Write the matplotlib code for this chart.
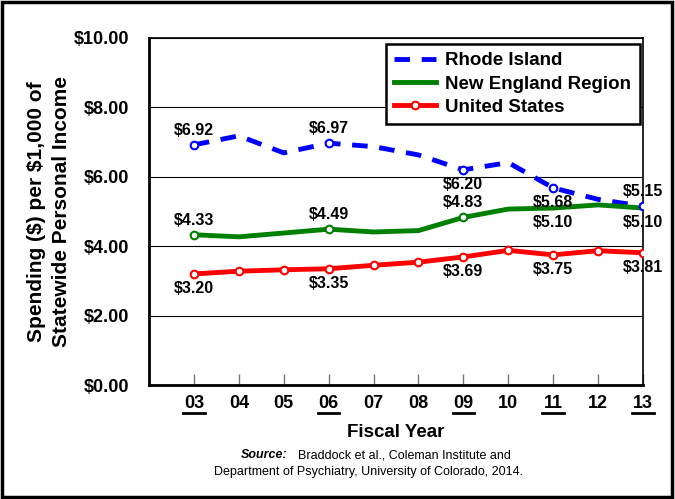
import matplotlib
matplotlib.use("Agg")
import matplotlib.pyplot as plt
from matplotlib.patches import Rectangle

plt.rcParams['font.family'] = ['Liberation Sans', 'DejaVu Sans']

# data
years = [3, 4, 5, 6, 7, 8, 9, 10, 11, 12, 13]
year_labels = ['03', '04', '05', '06', '07', '08', '09', '10', '11', '12', '13']
underlined = ['03', '06', '09', '11', '13']
rhode_island = [6.92, 7.18, 6.69, 6.97, 6.87, 6.63, 6.20, 6.41, 5.68, 5.35, 5.15]
new_england = [4.33, 4.27, 4.38, 4.49, 4.41, 4.45, 4.83, 5.07, 5.10, 5.19, 5.10]
united_states = [3.20, 3.28, 3.32, 3.35, 3.45, 3.54, 3.69, 3.88, 3.75, 3.87, 3.81]
yticks = [0, 2, 4, 6, 8, 10]

labelled = [0, 3, 6, 8, 10]
ri_side = [1, 1, -1, -1, 1]
ne_side = [1, 1, 1, -1, -1]
us_side = [-1, -1, -1, -1, -1]

fig = plt.figure(figsize=(6.75, 4.99), dpi=100)
ax = fig.add_axes([149 / 675, 1 - 385 / 499, 494 / 675, 347 / 499])

ax.plot(years, rhode_island, color='#0000FF', lw=3.5, dashes=(3.2, 2.4), label='Rhode Island', zorder=3)
ax.plot([years[i] for i in labelled], [rhode_island[i] for i in labelled], 'o', ms=5.5,
        mfc='white', mec='#0000FF', mew=1.5, zorder=4)
ax.plot(years, new_england, color='#008000', lw=3.5, label='New England Region', zorder=3)
ax.plot([years[i] for i in labelled[:3]], [new_england[i] for i in labelled[:3]], 'o', ms=5.5,
        mfc='white', mec='#008000', mew=1.5, zorder=4)
ax.plot(years, united_states, color='#FF0000', lw=3.5, marker='o', ms=5.5, mfc='white',
        mec='#FF0000', mew=1.5, label='United States', zorder=3)

for series, sides in [(rhode_island, ri_side), (new_england, ne_side), (united_states, us_side)]:
    for i, s in zip(labelled, sides):
        ax.annotate('$%.2f' % series[i], (years[i], series[i]), xytext=(0, 10.5 * s),
                    textcoords='offset points', ha='center', va='center',
                    fontsize=11.5, fontweight='bold', zorder=5)

ax.set_xlim(2, 13)
ax.set_ylim(0, 10)
ax.set_yticks(yticks)
ax.set_yticklabels(['$%.2f' % v for v in yticks], fontsize=13, fontweight='bold')
ax.set_xticks(years)
ax.set_xticklabels(year_labels, fontsize=13, fontweight='bold')
ax.tick_params(axis='x', direction='in', length=8, width=1, color='#777777', pad=7)
ax.tick_params(axis='y', length=0, pad=14)
ax.grid(axis='y', color='black', lw=0.8)
for sp in ax.spines.values():
    sp.set_linewidth(1.2)
ax.spines['left'].set_linewidth(2)
ax.spines['bottom'].set_linewidth(2)

# underline selected year labels
for x, l in zip(years, year_labels):
    if l in underlined:
        ax.plot([x - 0.24, x + 0.24], [-0.08, -0.08], color='black', lw=2,
                transform=ax.get_xaxis_transform(), clip_on=False)

ax.set_xlabel('Fiscal Year', fontsize=13.5, fontweight='bold', labelpad=9)
ax.set_ylabel('Spending (\\$) per \\$1,000 of\nStatewide Personal Income', fontsize=15,
              fontweight='bold', labelpad=2, linespacing=1.4)

leg = ax.legend(loc='upper right', bbox_to_anchor=(0.993, 0.983),
                prop={'weight': 'bold', 'size': 13.5}, fancybox=False, framealpha=1,
                edgecolor='black', borderpad=0.45, labelspacing=0.32, handlelength=2.2,
                handletextpad=0.5, borderaxespad=0.0)
leg.get_frame().set_linewidth(1.8)

fig.text(287 / 675, 1 - 455 / 499, 'Source:', fontsize=9, fontweight='bold', style='italic', ha='right', va='center')
fig.text(298 / 675, 1 - 455 / 499, 'Braddock et al., Coleman Institute and', fontsize=9, ha='left', va='center')
fig.text(368 / 675, 1 - 472 / 499, 'Department of Psychiatry, University of Colorado, 2014.', fontsize=9, ha='center', va='center')

fig.patches.append(Rectangle((0.003, 0.004), 0.993, 0.992, transform=fig.transFigure,
                             fill=False, edgecolor='black', lw=2.5))

fig.savefig('out.png', dpi=100)
